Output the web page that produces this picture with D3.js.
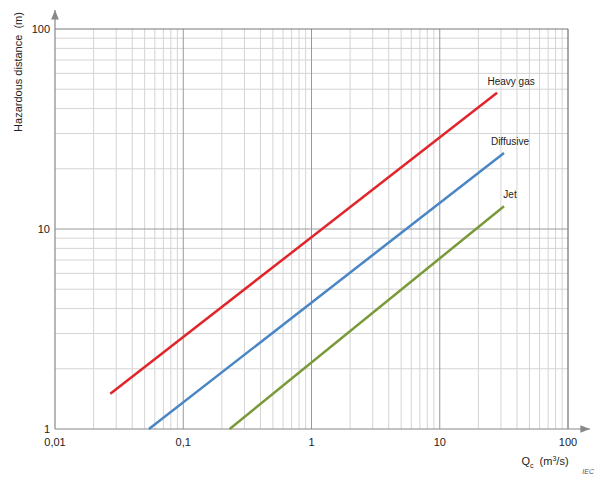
<!DOCTYPE html>
<html><head><meta charset="utf-8">
<script src="https://cdn.jsdelivr.net/npm/d3@7"></script>
<style>body{margin:0;background:#fff}text{font-family:Arial,"Liberation Sans",sans-serif;white-space:pre}</style>
</head><body><svg id="c" width="605" height="480"></svg>
<script>
// series (start / end points, log-log straight lines)
var seriesNames = ['Heavy gas', 'Diffusive', 'Jet'];
var seriesColors = ['#e0262b', '#4a86c5', '#7a9a3a'];
var seriesQ = [[0.027, 28], [0.054, 31.7], [0.23, 31.7]];
var seriesD = [[1.5, 48], [1, 24], [1, 13]];
var xTicks = [0.01, 0.1, 1, 10, 100];
var xTickLabels = ['0,01', '0,1', '1', '10', '100'];
var yTicks = [1, 10, 100];

var svg = d3.select('#c');
var x = d3.scaleLog().domain([0.01, 100]).range([55, 568]);
var y = d3.scaleLog().domain([1, 100]).range([429, 29]);

// minor grid
var minorX = [], minorY = [];
for (var e = -2; e < 2; e++) for (var k = 2; k < 10; k++) minorX.push(k * Math.pow(10, e));
for (var e2 = 0; e2 < 2; e2++) for (var k2 = 2; k2 < 10; k2++) minorY.push(k2 * Math.pow(10, e2));
svg.selectAll('.mx').data(minorX).enter().append('line')
  .attr('x1', x).attr('x2', x).attr('y1', 29).attr('y2', 429).attr('stroke', '#d4d4d4');
svg.selectAll('.my').data(minorY).enter().append('line')
  .attr('y1', y).attr('y2', y).attr('x1', 55).attr('x2', 568).attr('stroke', '#d4d4d4');
svg.selectAll('.Mx').data(xTicks.slice(1)).enter().append('line')
  .attr('x1', x).attr('x2', x).attr('y1', 29).attr('y2', 429).attr('stroke', d => d === 100 ? '#555' : '#999');
svg.selectAll('.My').data(yTicks.slice(1)).enter().append('line')
  .attr('y1', y).attr('y2', y).attr('x1', 55).attr('x2', 568).attr('stroke', d => d === 100 ? '#777' : '#999');

// axes with arrows
svg.append('defs').append('marker').attr('id', 'ar').attr('viewBox', '0 0 10 10')
  .attr('refX', 10).attr('refY', 5).attr('markerWidth', 8).attr('markerHeight', 8).attr('orient', 'auto')
  .append('path').attr('d', 'M0,1L10,5L0,9z').attr('fill', '#888');
svg.append('line').attr('x1', 55).attr('x2', 55).attr('y1', 429).attr('y2', 10)
  .attr('stroke', '#888').attr('stroke-width', 1.2).attr('marker-end', 'url(#ar)');
svg.append('line').attr('x1', 55).attr('x2', 590).attr('y1', 429).attr('y2', 429)
  .attr('stroke', '#888').attr('stroke-width', 1.2).attr('marker-end', 'url(#ar)');

svg.selectAll('.xt').data(xTicks).enter().append('text')
  .attr('x', x).attr('y', 446).attr('text-anchor', 'middle').attr('font-size', 11).attr('fill', '#222')
  .text((d, i) => xTickLabels[i]);
svg.selectAll('.yt').data(yTicks).enter().append('text')
  .attr('x', 50).attr('y', d => y(d) + 4).attr('text-anchor', 'end').attr('font-size', 11).attr('fill', '#222')
  .text(d => d);

svg.append('text').attr('transform', 'translate(22,72) rotate(-90)').attr('text-anchor', 'middle')
  .attr('font-size', 11).attr('fill', '#222').text('Hazardous distance\u00a0\u00a0(m)');
var xl = svg.append('text').attr('x', 545).attr('y', 465).attr('text-anchor', 'middle').attr('font-size', 11).attr('fill', '#222');
xl.append('tspan').text('Q');
xl.append('tspan').attr('font-size', 7).attr('dy', 3).text('c');
xl.append('tspan').attr('dy', -3).text('\u00a0\u00a0(m');
xl.append('tspan').attr('font-size', 7).attr('dy', -4).text('3');
xl.append('tspan').attr('dy', 4).text('/s)');
svg.append('text').attr('x', 594).attr('y', 474).attr('text-anchor', 'end').attr('font-size', 7)
  .attr('font-style', 'italic').attr('fill', '#555').text('IEC');

var line = d3.line().x(d => x(d[0])).y(d => y(d[1]));
seriesNames.forEach(function (n, i) {
  var pts = seriesQ[i].map((q, j) => [q, seriesD[i][j]]);
  svg.append('path').datum(pts).attr('d', line).attr('stroke', seriesColors[i])
    .attr('stroke-width', 2.5).attr('fill', 'none');
  svg.append('text').attr('x', x(pts[1][0]) + (i === 0 ? 14 : 6)).attr('y', y(pts[1][1]) - 8)
    .attr('text-anchor', 'middle').attr('font-size', 10).attr('fill', '#222').text(n);
});
</script></body></html>
